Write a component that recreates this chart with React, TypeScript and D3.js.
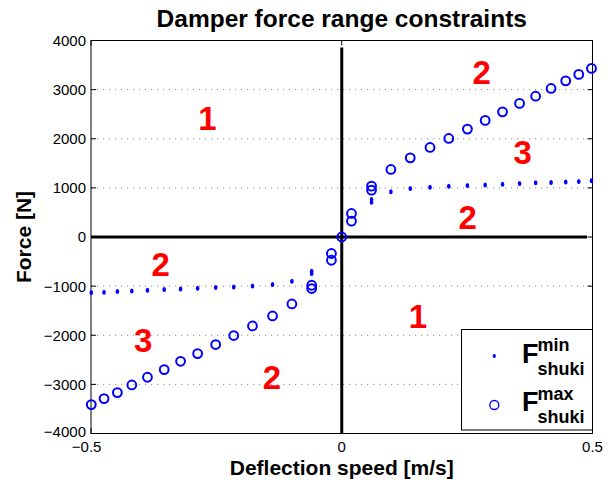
import React from "react";
import * as d3 from "d3";

// ---- data ----
const maxX = [-0.4994, -0.474, -0.4474, -0.4186, -0.3874, -0.354, -0.3214, -0.2874, -0.2514, -0.2154, -0.178, -0.138, -0.0994, -0.06, -0.06, -0.0206, -0.0206, 0, 0.0194, 0.0194, 0.0594, 0.0594, 0.098, 0.1366, 0.176, 0.2134, 0.2506, 0.286, 0.3206, 0.3546, 0.3866, 0.4174, 0.4466, 0.4726, 0.498];
const maxF = [-3411, -3289, -3167, -3012, -2855, -2699, -2530, -2373, -2189, -2006, -1811, -1607, -1363, -982, -1049, -336, -473, 0, 479, 322, 1035, 953, 1375, 1611, 1823, 2006, 2196, 2373, 2548, 2719, 2866, 3024, 3179, 3310, 3432];

const minX = [-0.4994, -0.474, -0.4474, -0.4186, -0.3874, -0.354, -0.3214, -0.2874, -0.2514, -0.2154, -0.178, -0.138, -0.0994, -0.06, -0.06, 0.0594, 0.0594, 0.098, 0.1366, 0.176, 0.2134, 0.2506, 0.286, 0.3206, 0.3546, 0.3866, 0.4174, 0.4466, 0.4726, 0.498];
const minF = [-1130, -1124, -1110, -1098, -1084, -1069, -1057, -1043, -1029, -1016, -996, -967, -900, -697, -743, 764, 709, 919, 988, 1014, 1035, 1049, 1061, 1075, 1090, 1102, 1110, 1122, 1130, 1143];

const regionLabels = ["1", "2", "3", "2", "2", "1", "3", "2"];
const regionX = [-0.268, 0.279, 0.361, 0.251, -0.361, 0.152, -0.396, -0.139];
const regionY = [2413, 3360, 1724, 395, -558, -1616, -2092, -2843];

const xTicks = [-0.5, 0, 0.5];
const yTicks = [-4000, -3000, -2000, -1000, 0, 1000, 2000, 3000, 4000];
const gridY = [-3000, -2000, -1000, 1000, 2000, 3000];

const W = 609;
const H = 485;
const L = 91, R = 592.5, T = 40.5, B = 433.5;
const FONT = "'Liberation Sans', Arial, Helvetica, sans-serif";
const BLUE = "#0000ff";

const fmt = (v: number) => (v < 0 ? "\u2212" + String(Math.abs(v)) : String(v));

export default function App() {
  const x = d3.scaleLinear().domain([-0.5, 0.5]).range([L, R]);
  const y = d3.scaleLinear().domain([-4000, 4000]).range([B, T]);

  return (
    <svg
      width={W}
      height={H}
      style={{ position: "fixed", left: 0, top: 0, background: "#fff" }}
      fontFamily={FONT}
    >
      <rect x={0} y={0} width={W} height={H} fill="#fff" />
      {/* grid */}
      {gridY.map((v) => (
        <line key={"g" + v} x1={L} x2={R} y1={y(v)} y2={y(v)} stroke="#8a8a8a" strokeWidth={1} strokeDasharray="1.2,4.8" />
      ))}
      {/* ticks */}
      {yTicks.map((v) => (
        <g key={"yt" + v}>
          <line x1={L} x2={L + 5} y1={y(v)} y2={y(v)} stroke="#000" strokeWidth={1} />
          <line x1={R} x2={R - 5} y1={y(v)} y2={y(v)} stroke="#000" strokeWidth={1} />
          <text x={L - 5} y={y(v)} dy={v === -4000 ? "0.2em" : "0.36em"} textAnchor="end" fontSize={15} fill="#000">
            {fmt(v)}
          </text>
        </g>
      ))}
      {xTicks.map((v) => (
        <g key={"xt" + v}>
          <line x1={x(v)} x2={x(v)} y1={B} y2={B - 5} stroke="#000" strokeWidth={1} />
          <line x1={x(v)} x2={x(v)} y1={T} y2={T + 5} stroke="#000" strokeWidth={1} />
          <text x={x(v)} dx={v < 0 ? -4.4 : 0} y={452} textAnchor="middle" fontSize={15} fill="#000">
            {fmt(v)}
          </text>
        </g>
      ))}
      {/* thick zero axes */}
      <line x1={x(0)} x2={x(0)} y1={y(-4000)} y2={y(3860)} stroke="#000" strokeWidth={3} />
      <line x1={x(-0.5)} x2={x(0.489)} y1={y(0)} y2={y(0)} stroke="#000" strokeWidth={3} />
      {/* frame */}
      <rect x={L} y={T} width={R - L} height={B - T} fill="none" stroke="#000" strokeWidth={1} />

      {/* min series: dots */}
      {minX.map((v, i) => (
        <ellipse key={"d" + i} cx={x(v)} cy={y(minF[i])} rx={1.8} ry={2.5} fill={BLUE} />
      ))}
      {/* max series: circles */}
      {maxX.map((v, i) => (
        <circle key={"c" + i} cx={x(v)} cy={y(maxF[i])} r={4.4} fill="none" stroke={BLUE} strokeWidth={2} />
      ))}

      {/* region numbers */}
      {regionLabels.map((s, i) => (
        <text
          key={"r" + i}
          x={x(regionX[i])}
          y={y(regionY[i])}
          dy="0.36em"
          textAnchor="middle"
          fontSize={33}
          fontWeight="bold"
          fill="#ff0000"
        >
          {s}
        </text>
      ))}

      {/* legend */}
      <rect x={461.5} y={329.5} width={131} height={100.5} fill="#fff" stroke="#000" strokeWidth={1} />
      <ellipse cx={494.3} cy={356} rx={1.6} ry={2} fill={BLUE} />
      <text x={522} y={363.3} fontSize={27} fontWeight="bold" fill="#000">F</text>
      <text x={537.5} y={350.7} fontSize={18} fontWeight="bold" fill="#000">min</text>
      <text x={537.5} y={375} fontSize={18} fontWeight="bold" fill="#000">shuki</text>
      <circle cx={494.3} cy={405} r={4.5} fill="none" stroke={BLUE} strokeWidth={1.3} />
      <text x={522} y={410.7} fontSize={27} fontWeight="bold" fill="#000">F</text>
      <text x={537.5} y={400} fontSize={18} fontWeight="bold" fill="#000">max</text>
      <text x={537.5} y={422.7} fontSize={18} fontWeight="bold" fill="#000">shuki</text>

      {/* title and labels */}
      <text x={(L + R) / 2} y={26.7} textAnchor="middle" fontSize={24.5} fontWeight="bold" fill="#000">
        Damper force range constraints
      </text>
      <text x={(L + R) / 2} y={475} textAnchor="middle" fontSize={21} fontWeight="bold" fill="#000">
        Deflection speed [m/s]
      </text>
      <text
        transform={`translate(31,${(T + B) / 2}) rotate(-90)`}
        textAnchor="middle"
        fontSize={21}
        fontWeight="bold"
        fill="#000"
      >
        Force [N]
      </text>
    </svg>
  );
}
